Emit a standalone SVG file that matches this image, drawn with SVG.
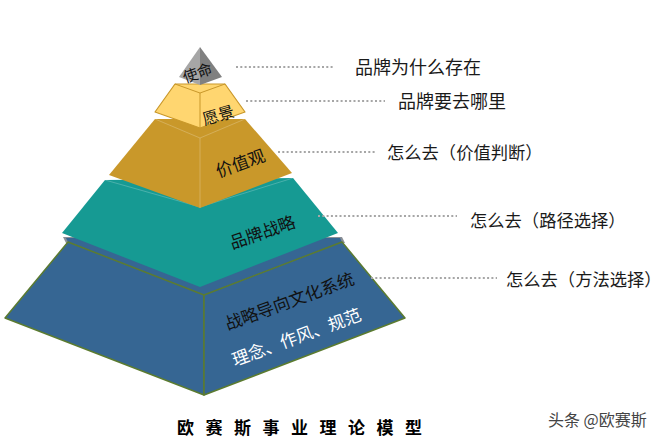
<svg xmlns="http://www.w3.org/2000/svg" width="666" height="441" viewBox="0 0 666 441">
<style>
.lbl{font-family:"Noto Sans CJK SC","Noto Sans",sans-serif;font-size:18px;fill:#1a1a1a}
.lbs{font-size:17.3px}
.in{font-family:"Noto Sans CJK SC","Noto Sans",sans-serif;font-size:17px;fill:#111}
.dot{stroke:#a6a6a6;stroke-width:2.2;stroke-dasharray:2 2.3;fill:none}
.hl{stroke:#ffffff;stroke-opacity:0.22;stroke-width:1;fill:none}
.bl{fill:#366693;stroke:#5b7b30;stroke-width:1.5;stroke-linejoin:round}
</style>
<rect width="666" height="441" fill="#ffffff"/>
<g id="level5">
<polygon points="63,237 342,237 345,243 66,243" fill="#8a8f96"/>
<polygon points="66,238 340,238 342,242 204,295 68,242" fill="#366693"/>
<polygon class="bl" points="68,242 204,295 204,395 5,318"/>
<polygon class="bl" points="204,295 342,242 405,318 204,395"/>
<text class="in" transform="translate(289,300) rotate(-20)" text-anchor="middle" dominant-baseline="central">战略导向文化系统</text>
<text class="in" transform="translate(296,336) rotate(-20)" text-anchor="middle" dominant-baseline="central" style="fill:#ffffff">理念、作风、规范</text>
</g>
<g id="level4">
<polygon points="105,180 293,178 338,233 200,287 62,233" fill="#169a93"/>
<polyline class="hl" points="105,180 200,207 293,178"/>
<text class="in" transform="translate(262,231) rotate(-19)" text-anchor="middle" dominant-baseline="central">品牌战略</text>
</g>
<g id="level3">
<polygon points="155,119 245,119 292,173 200,208 109,175" fill="#c9982a"/>
<polyline class="hl" points="155,119 200,138 245,119"/>
<line class="hl" x1="200" y1="138" x2="200" y2="208"/>
<text class="in" transform="translate(240,162) rotate(-20)" text-anchor="middle" dominant-baseline="central">价值观</text>
</g>
<g id="level2">
<polygon points="175,84 225,84 245,112 200,128 155,112" fill="#ffd670" stroke="#c9982a" stroke-width="1.2" stroke-linejoin="round"/>
<polyline points="175,84 200,93 225,84" fill="none" stroke="#c9982a" stroke-width="1"/>
<line x1="200" y1="93" x2="200" y2="128" stroke="#c9982a" stroke-width="1"/>
<text class="in" transform="translate(218,114) rotate(-16)" text-anchor="middle" dominant-baseline="central" style="font-size:16px">愿景</text>
</g>
<g id="level1">
<polygon points="200,47 200,85 179,77" fill="#a6a6a6"/>
<polygon points="200,47 222,77 200,85" fill="#808080"/>
<text class="in" transform="translate(197,72) rotate(-20)" text-anchor="middle" dominant-baseline="central" style="font-size:15px">使命</text>
</g>
<g id="connectors">
<line class="dot" x1="236" y1="67" x2="333" y2="67"/>
<line class="dot" x1="246" y1="101" x2="385" y2="101"/>
<line class="dot" x1="278" y1="152" x2="375" y2="152"/>
<line class="dot" x1="318" y1="216" x2="457" y2="216"/>
<line class="dot" x1="371" y1="278" x2="497" y2="278"/>
</g>
<g id="label1"><text class="lbl" x="355" y="74">品牌为什么存在</text></g>
<g id="label2"><text class="lbl" x="398" y="108">品牌要去哪里</text></g>
<g id="label3"><text class="lbl lbs" x="387" y="159">怎么去（价值判断）</text></g>
<g id="label4"><text class="lbl lbs" x="470" y="227">怎么去（路径选择）</text></g>
<g id="label5"><text class="lbl lbs" x="506" y="286">怎么去（方法选择）</text></g>
<g id="title"><text x="177" y="434" style="font-family:'Noto Sans CJK SC','Noto Sans',sans-serif;font-size:17px;font-weight:bold;fill:#000;letter-spacing:11.5px">欧赛斯事业理论模型</text></g>
<g id="watermark"><text x="548" y="426" style="font-family:'Noto Sans CJK SC','Noto Sans',sans-serif;font-size:16px;fill:#444">头条 @欧赛斯</text></g>
</svg>
